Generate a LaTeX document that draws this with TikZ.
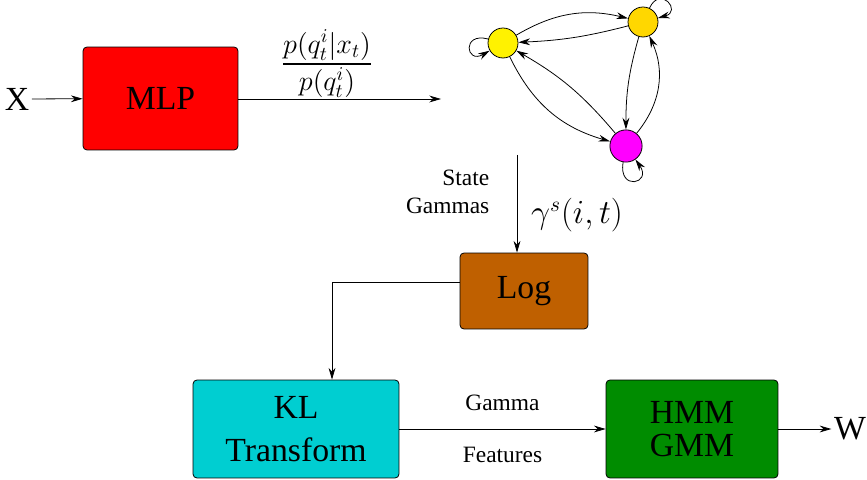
\documentclass[tikz,border=0pt]{standalone}
\usepackage{fontspec}
\setmainfont{Liberation Serif}
\usepackage{amsmath}
\usetikzlibrary{arrows.meta,positioning}

\definecolor{mlpred}{RGB}{255,0,0}
\definecolor{logbrown}{RGB}{191,96,0}
\definecolor{klcyan}{RGB}{0,206,209}
\definecolor{hmmgreen}{RGB}{0,140,0}
\definecolor{stgold}{RGB}{255,215,0}
\definecolor{stpink}{RGB}{255,0,255}

\begin{document}
\begin{tikzpicture}[x=0.018cm, y=-0.018cm, >={Stealth[length=6pt,width=3.5pt]}, thick,
	   blk/.style={draw, thin, rounded corners=2pt, align=center, inner sep=2pt, font=\LARGE},
	   st/.style={circle, draw, thin, minimum size=0.54cm, inner sep=0pt},
	   lbl/.style={font=\large, align=right, inner sep=1pt}]
	  \useasboundingbox (0,0) rectangle (867,480);
	  % pipeline blocks
	  \node[blk, fill=mlpred, minimum width=2.79cm, minimum height=1.854cm] (mlp) at (160.5,98.5) {MLP};
	  \node[blk, fill=logbrown, minimum width=2.304cm, minimum height=1.368cm] (lg) at (524,291) {Log};
	  \node[blk, fill=klcyan, minimum width=3.708cm, minimum height=1.764cm] (kl) at (296,429) {KL\\ Transform};
	  \node[blk, fill=hmmgreen, minimum width=3.096cm, minimum height=1.764cm] (hmm) at (692,429) {HMM\\[-5pt] GMM};
	  \node[font=\LARGE, inner sep=1pt] (x) at (17,99) {X};
	  \node[font=\LARGE, inner sep=1pt] (w) at (850,429) {W};
	  % hmm states
	  \node[st, fill=yellow] (s1) at (503,43) {};
	  \node[st, fill=stgold] (s2) at (643,22) {};
	  \node[st, fill=stpink, minimum size=0.58cm] (s3) at (626,146) {};
	  \draw[->, thin] (s1) to[bend left=22] (s2);
	  \draw[->, thin] (s2) to[bend left=6] (s1);
	  \draw[->, thin] (s1) to[bend right=24] (s3);
	  \draw[->, thin] (s3) to[bend right=10] (s1);
	  \draw[->, thin] (s2) to[bend right=8] (s3);
	  \draw[->, thin] (s3) to[bend right=32] (s2);
	  \draw[->, thin] (s1) to[out=165, in=210, looseness=6] (s1);
	  \draw[->, thin] (s2) to[out=65, in=15, looseness=5] (s2);
	  \draw[->, thin] (s3) to[out=-100, in=-55, looseness=6] (s3);
	  % connectors
	  \coordinate (post) at (441,99);
	  \coordinate (gtop) at (517,155);
	  \coordinate (bend) at (332,282);
	  \draw[->, thin] (x) -- (mlp);
	  \draw[->, thin] (mlp.east |- post) -- (post);
	  \node[font=\Large, anchor=base, inner sep=0pt] (ratio) at (327,71)
	    {$\genfrac{}{}{1.3pt}{1}{\textstyle p(q_t^i|x_t)}{\textstyle p(q_t^i)}$};
	  \draw[->, thin] (gtop) -- (gtop |- lg.north);
	  \draw[->, thin] (lg.west |- bend) -- (bend) -- (bend |- kl.north);
	  \draw[->, thin] (kl) -- node[above=8pt, lbl]{Gamma} node[below=8pt, lbl]{Features} (hmm);
	  \draw[->, thin] (hmm) -- (w);
	  \node[lbl, anchor=east] (sg) at (492,192) {State\\ Gammas};
	  \node[font=\fontsize{16}{19}\selectfont] (gm) at (577,215) {$\gamma^s(i,t)$};
	\end{tikzpicture}
\end{document}
